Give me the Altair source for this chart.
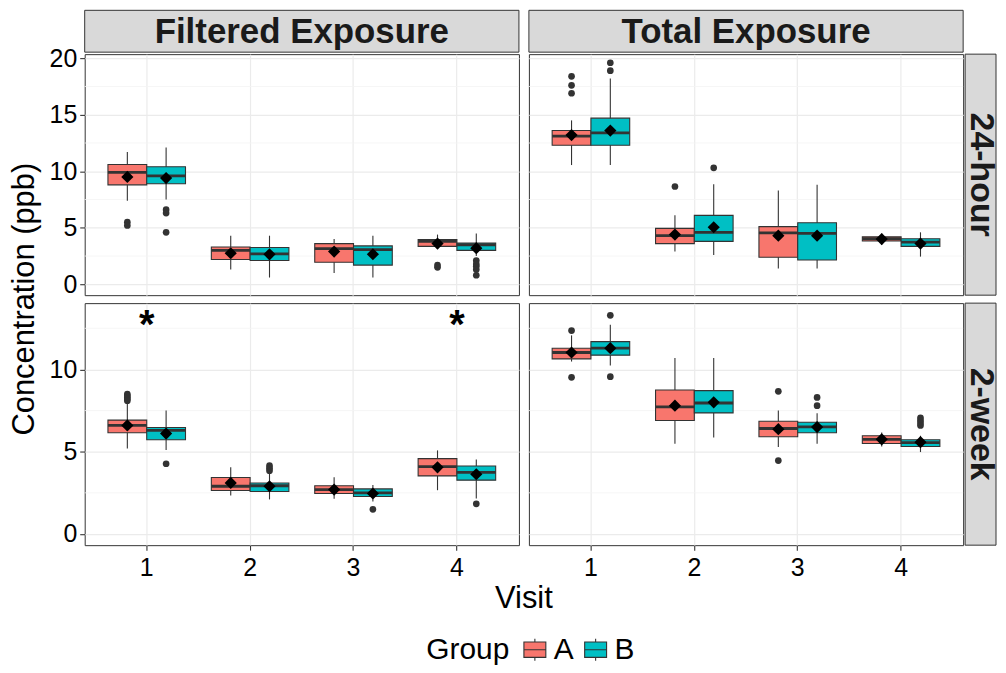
import altair as alt
import pandas as pd

FONT = "Liberation Sans"
VISITS = ["1", "2", "3", "4"]
GROUPS = ["A", "B"]
COLORS = ["#F8766D", "#00BFC4"]

# ---- Filtered Exposure, 24-hour ----
F24_A = dict(lo=[7.4, 1.3, 1.0, 3.2], q1=[8.8, 2.2, 1.95, 3.36], med=[9.9, 3.0, 3.15, 3.8],
             q3=[10.6, 3.3, 3.6, 3.97], hi=[11.7, 4.3, 4.0, 4.4], mean=[9.5, 2.75, 2.9, 3.6])
F24_B = dict(lo=[7.5, 0.6, 0.6, 2.5], q1=[8.9, 2.1, 1.7, 3.0], med=[9.6, 2.7, 3.07, 3.5],
             q3=[10.4, 3.25, 3.4, 3.65], hi=[12.1, 4.3, 4.3, 4.5], mean=[9.4, 2.65, 2.66, 3.2])
F24_A_OUT = {"1": [5.5, 5.2], "4": [1.7, 1.5]}
F24_B_OUT = {"1": [6.6, 6.3, 4.6], "4": [2.1, 1.8, 1.6, 1.3, 0.8]}

# ---- Total Exposure, 24-hour ----
T24_A = dict(lo=[10.55, 2.9, 1.4, 3.5], q1=[12.3, 3.6, 2.4, 3.83], med=[13.1, 4.3, 4.55, 4.03],
             q3=[13.6, 4.95, 5.1, 4.2], hi=[14.5, 6.1, 8.3, 4.5], mean=[13.2, 4.4, 4.3, 4.0])
T24_B = dict(lo=[10.55, 2.6, 1.4, 2.45], q1=[12.3, 3.8, 2.15, 3.36], med=[13.4, 4.6, 4.5, 3.74],
             q3=[14.7, 6.1, 5.45, 4.03], hi=[18.2, 8.85, 8.8, 4.6], mean=[13.6, 5.05, 4.3, 3.6])
T24_A_OUT = {"1": [18.4, 17.6, 16.9], "2": [8.65]}
T24_B_OUT = {"1": [19.6, 18.9], "2": [10.3]}

# ---- Filtered Exposure, 2-week ----
F2W_A = dict(lo=[5.2, 2.34, 2.14, 2.66], q1=[6.15, 2.64, 2.46, 3.53], med=[6.6, 2.9, 2.7, 4.09],
             q3=[6.92, 3.43, 2.93, 4.58], hi=[8.0, 4.05, 3.45, 5.08], mean=[6.6, 3.1, 2.7, 4.05])
F2W_B = dict(lo=[5.1, 2.1, 1.98, 2.16], q1=[5.73, 2.58, 2.28, 3.27], med=[6.3, 2.93, 2.5, 3.75],
             q3=[6.47, 3.1, 2.74, 4.13], hi=[7.5, 3.7, 2.98, 4.52], mean=[6.1, 2.9, 2.46, 3.63])
F2W_A_OUT = {"1": [8.5, 8.4, 8.3, 8.2, 8.1]}
F2W_B_OUT = {"1": [4.27], "2": [4.15, 4.0, 3.85], "3": [1.5], "4": [1.83]}
F2W_STARS = ["1", "4"]
STAR_Y = 13.2

# ---- Total Exposure, 2-week ----
T2W_A = dict(lo=[10.48, 5.48, 5.28, 5.32], q1=[10.64, 6.9, 5.91, 5.5], med=[11.03, 7.72, 6.41, 5.75],
             q3=[11.29, 8.75, 6.85, 5.97], hi=[12.07, 10.7, 7.5, 6.17], mean=[11.03, 7.8, 6.37, 5.75])
T2W_B = dict(lo=[10.24, 5.87, 5.48, 4.98], q1=[10.87, 7.36, 6.15, 5.32], med=[11.29, 7.96, 6.51, 5.55],
             q3=[11.69, 8.71, 6.79, 5.73], hi=[12.72, 10.7, 7.34, 5.97], mean=[11.29, 8.0, 6.5, 5.58])
T2W_A_OUT = {"1": [12.36, 9.52], "3": [8.67, 4.46]}
T2W_B_OUT = {"1": [13.29, 9.56], "3": [8.3, 7.8], "4": [7.06, 6.9, 6.75, 6.6]}

TOP_DOMAIN = [-0.96, 20.36]
TOP_MAJOR = [0, 5, 10, 15, 20]
TOP_MINOR = [2.5, 7.5, 12.5, 17.5]
BOT_DOMAIN = [-0.68, 14.03]
BOT_MAJOR = [0, 5, 10]
BOT_MINOR = [2.5, 7.5, 12.5]

W = 436
H_TOP = 242
H_BOT = 243

BOX_PATH = "M-1,-0.7H1V0.7H-1Z M-1,0H1 M0,-0.7V-1 M0,0.7V1"


def stats_df(a, b):
    rows = []
    for g, s in (("A", a), ("B", b)):
        for i, v in enumerate(VISITS):
            rows.append(dict(Visit=v, Group=g, lo=s["lo"][i], q1=s["q1"][i], med=s["med"][i],
                             q3=s["q3"][i], hi=s["hi"][i], mean=s["mean"][i]))
    return pd.DataFrame(rows)


def out_df(a, b):
    rows = []
    for g, o in (("A", a), ("B", b)):
        for v, vals in o.items():
            for val in vals:
                rows.append(dict(Visit=v, Group=g, value=val))
    return pd.DataFrame(rows)


def panel(stats, outs, ydom, major, minor, H, left, bottom,
          col_title=None, row_title=None, stars=None, ytitle=False, xtitle=False):
    xaxis = alt.Axis(title=None, grid=True, bandPosition=0.5, domain=False,
                     labels=bottom, ticks=bottom, labelAngle=0, labelPadding=5)
    xenc = alt.X("Visit:N", scale=alt.Scale(domain=VISITS, paddingInner=0, paddingOuter=0.1), axis=xaxis)
    xoff = alt.XOffset("Group:N", scale=alt.Scale(domain=GROUPS, paddingInner=0, paddingOuter=1 / 3))
    yscale = alt.Scale(domain=ydom, nice=False, zero=False)
    yaxis = alt.Axis(title=None, values=major, grid=True, domain=False,
                     labels=left, ticks=left, labelPadding=3)

    minor_l = alt.Chart(pd.DataFrame({"v": minor})).mark_rule(
        color="#F4F4F4", strokeWidth=0.8).encode(y=alt.Y("v:Q", scale=yscale, axis=yaxis))
    base = alt.Chart(stats)
    whisk = base.mark_rule(color="#333333", strokeWidth=1.1).encode(
        x=xenc, xOffset=xoff, y=alt.Y("lo:Q", scale=yscale), y2="hi:Q")
    box = base.mark_bar(stroke="#333333", strokeWidth=1.1, opacity=1).encode(
        x=xenc, xOffset=xoff, y=alt.Y("q1:Q", scale=yscale), y2="q3:Q",
        fill=alt.Fill("Group:N", scale=alt.Scale(domain=GROUPS, range=COLORS),
                      legend=alt.Legend(title="Group", orient="none", legendX=343, legendY=583,
                                        direction="horizontal", titleOrient="left",
                                        symbolType=BOX_PATH, symbolSize=484,
                                        symbolStrokeColor="#333333", symbolStrokeWidth=1.1,
                                        titleFontSize=30, labelFontSize=30, titleFont=FONT,
                                        labelFont=FONT, titleFontWeight="normal",
                                        titleColor="#000000", labelColor="#000000",
                                        titlePadding=10, labelOffset=4, columnPadding=6)))
    med = base.mark_bar(fillOpacity=0, stroke="#333333", strokeWidth=2.8).encode(
        x=xenc, xOffset=xoff, y=alt.Y("med:Q", scale=yscale), y2="med:Q")
    pts = alt.Chart(outs).mark_circle(size=45, color="#333333", opacity=1).encode(
        x=xenc, xOffset=xoff, y=alt.Y("value:Q", scale=yscale))
    mean = base.mark_point(shape="diamond", filled=True, color="#000000", size=150, opacity=1).encode(
        x=xenc, xOffset=xoff, y=alt.Y("mean:Q", scale=yscale))
    layers = [minor_l, whisk, box, med, pts, mean]

    if stars:
        sdf = pd.DataFrame({"Visit": stars, "y": [STAR_Y] * len(stars)})
        layers.append(alt.Chart(sdf).mark_text(text="*", fontSize=40, fontWeight="bold", font=FONT,
                                               color="#000000", baseline="alphabetic", dy=21).encode(
            x=xenc, y=alt.Y("y:Q", scale=yscale)))
    if col_title:
        d = alt.Data(values=[{"t": col_title}])
        layers.append(alt.Chart(d).mark_rect(fill="#D9D9D9", stroke="#333333", strokeWidth=1).encode(
            x=alt.value(0), x2=alt.value(W), y=alt.value(-44), y2=alt.value(-2)))
        layers.append(alt.Chart(d).mark_text(fontSize=35, fontWeight="bold", font=FONT,
                                             color="#1A1A1A", baseline="middle").encode(
            text="t:N", x=alt.value(W / 2), y=alt.value(-22)))
    if row_title:
        d = alt.Data(values=[{"t": row_title}])
        layers.append(alt.Chart(d).mark_rect(fill="#D9D9D9", stroke="#333333", strokeWidth=1).encode(
            x=alt.value(W + 2), x2=alt.value(W + 33), y=alt.value(0), y2=alt.value(H)))
        layers.append(alt.Chart(d).mark_text(fontSize=34, fontWeight="bold", font=FONT, angle=90,
                                             color="#1A1A1A", baseline="middle").encode(
            text="t:N", x=alt.value(W + 17.5), y=alt.value(H / 2)))
    if ytitle:
        d = alt.Data(values=[{"t": "Concentration (ppb)"}])
        layers.append(alt.Chart(d).mark_text(fontSize=31, font=FONT, angle=270, color="#000000",
                                             baseline="middle").encode(
            text="t:N", x=alt.value(-60), y=alt.value(H + 4)))
    if xtitle:
        d = alt.Data(values=[{"t": "Visit"}])
        layers.append(alt.Chart(d).mark_text(fontSize=31, font=FONT, color="#000000",
                                             baseline="middle").encode(
            text="t:N", x=alt.value(W + 5), y=alt.value(H + 54)))
    return alt.layer(*layers).properties(width=W, height=H)


tl = panel(stats_df(F24_A, F24_B), out_df(F24_A_OUT, F24_B_OUT), TOP_DOMAIN, TOP_MAJOR, TOP_MINOR,
           H_TOP, True, False, col_title="Filtered Exposure", ytitle=True)
tr = panel(stats_df(T24_A, T24_B), out_df(T24_A_OUT, T24_B_OUT), TOP_DOMAIN, TOP_MAJOR, TOP_MINOR,
           H_TOP, False, False, col_title="Total Exposure", row_title="24-hour")
bl = panel(stats_df(F2W_A, F2W_B), out_df(F2W_A_OUT, F2W_B_OUT), BOT_DOMAIN, BOT_MAJOR, BOT_MINOR,
           H_BOT, True, True, stars=F2W_STARS, xtitle=True)
br = panel(stats_df(T2W_A, T2W_B), out_df(T2W_A_OUT, T2W_B_OUT), BOT_DOMAIN, BOT_MAJOR, BOT_MINOR,
           H_BOT, False, True, row_title="2-week")

chart = alt.concat(tl, tr, bl, br, columns=2, spacing={"row": 8, "column": 10}, bounds="flush").resolve_scale(
    y="independent", x="independent", xOffset="independent"
).configure_view(stroke="#333333", strokeWidth=1).configure_axis(
    gridColor="#EBEBEB", gridWidth=1.2, labelFont=FONT, labelFontSize=25, labelColor="#000000",
    tickColor="#333333", tickSize=5, tickWidth=1.1
).properties(padding={"left": 0, "top": 0, "right": 0, "bottom": 0}, background="#FFFFFF")

chart.save("out.html", embed_options={"renderer": "svg", "actions": False})
